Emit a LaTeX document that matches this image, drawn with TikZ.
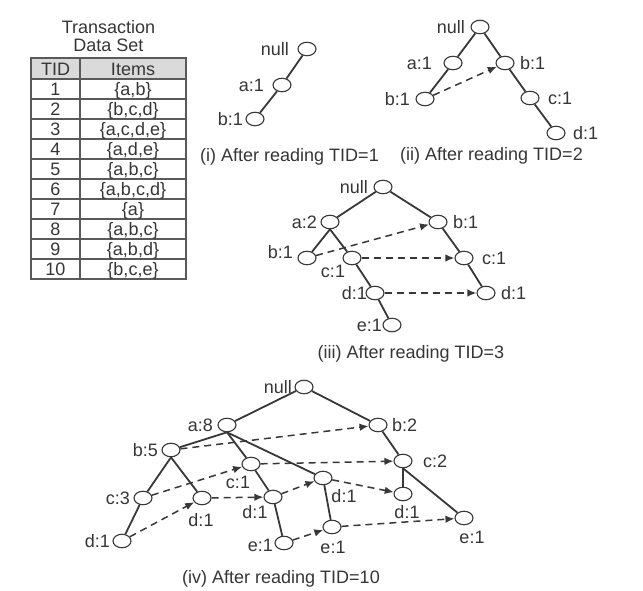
\documentclass[tikz,border=0pt]{standalone}
\usepackage{fontspec}
\setmainfont{Liberation Sans}
\usetikzlibrary{shapes.geometric,arrows.meta}
\definecolor{ink}{HTML}{363636}
\definecolor{edgec}{HTML}{383838}
\definecolor{hdr}{HTML}{DADADA}
\definecolor{grid}{HTML}{5A5A5A}
\tikzset{
  fp/.style={ellipse, draw=edgec, line width=1.1pt, fill=white, minimum width=18pt, minimum height=13.5pt, inner sep=0pt},
  lbl/.style={inner sep=0pt, text=ink, font=\fontsize{18}{20}\selectfont, text height=12.9pt, text depth=0pt},
  tree/.style={draw=edgec, line width=1.8pt},
  link/.style={draw=edgec, line width=1.5pt, dash pattern=on 7pt off 5pt, -{Latex[length=9pt,width=7.5pt]}},
  gridline/.style={draw=grid, line width=1.1pt}
}
\begin{document}
\begin{tikzpicture}[x=1pt,y=-1pt]
\useasboundingbox (0,0) rectangle (643,591);
\fill[white] (0,0) rectangle (643,591);

% ---------- table ----------
\node[lbl] (title1) at (108.5,27) {Transaction};
\node[lbl] (title2) at (108.5,45) {Data Set};
\fill[hdr] (31,58) rectangle (186,79);
\draw[gridline] (31,58) rectangle (186,279);
\foreach \yy in {79,99,119,139,159,179,199,219,239,259} \draw[gridline] (31,\yy) -- (186,\yy);
\draw[gridline, line width=1.6pt] (80,58) -- (80,279);
\node[lbl] (th) at (55.5,69) {TID};
\node[lbl] (ih) at (133,69) {Items};
\node[lbl] (t1) at (55.5,89) {1};   \node[lbl] (i1) at (133,89) {\{a,b\}};
\node[lbl] (t2) at (55.5,109) {2};  \node[lbl] (i2) at (133,109) {\{b,c,d\}};
\node[lbl] (t3) at (55.5,129) {3};  \node[lbl] (i3) at (133,129) {\{a,c,d,e\}};
\node[lbl] (t4) at (55.5,149) {4};  \node[lbl] (i4) at (133,149) {\{a,d,e\}};
\node[lbl] (t5) at (55.5,169) {5};  \node[lbl] (i5) at (133,169) {\{a,b,c\}};
\node[lbl] (t6) at (55.5,189) {6};  \node[lbl] (i6) at (133,189) {\{a,b,c,d\}};
\node[lbl] (t7) at (55.5,209) {7};  \node[lbl] (i7) at (133,209) {\{a\}};
\node[lbl] (t8) at (55.5,229) {8};  \node[lbl] (i8) at (133,229) {\{a,b,c\}};
\node[lbl] (t9) at (55.5,249) {9};  \node[lbl] (i9) at (133,249) {\{a,b,d\}};
\node[lbl] (t10) at (55.5,269) {10}; \node[lbl] (i10) at (133,269) {\{b,c,e\}};

% ---------- (i) ----------
\node[fp] (Anull) at (307,49) {};
\node[fp] (Aa) at (282,85) {};
\node[fp] (Ab) at (255,119) {};
\node[lbl, anchor=east] (LAnull) at (289,49) {null};
\node[lbl, anchor=east] (LAa) at (264,85) {a:1};
\node[lbl, anchor=east] (LAb) at (243,119) {b:1};
\draw[tree] (Anull) -- (Aa);
\draw[tree] (Aa) -- (Ab);
\node[lbl] (capA) at (289.5,155) {(i) After reading TID=1};

% ---------- (ii) ----------
\node[fp] (Bnull) at (480,27) {};
\node[fp] (Ba) at (453,63) {};
\node[fp] (Bb) at (505,63) {};
\node[fp] (Bab) at (425,99) {};
\node[fp] (Bc) at (530,98) {};
\node[fp] (Bd) at (556,133) {};
\node[lbl, anchor=east] (LBnull) at (465,27) {null};
\node[lbl, anchor=east] (LBa) at (432,63) {a:1};
\node[lbl, anchor=west] (LBb) at (520,63) {b:1};
\node[lbl, anchor=east] (LBab) at (410,99) {b:1};
\node[lbl, anchor=west] (LBc) at (548,98) {c:1};
\node[lbl, anchor=west] (LBd) at (573,133) {d:1};
\draw[tree] (Bnull) -- (Ba);
\draw[tree] (Bnull) -- (Bb);
\draw[tree] (Ba) -- (Bab);
\draw[tree] (Bb) -- (Bc);
\draw[tree] (Bc) -- (Bd);
\draw[link] (Bab) -- (Bb);
\node[lbl] (capB) at (491.5,154) {(ii) After reading TID=2};

% ---------- (iii) ----------
\node[fp] (Cnull) at (383,187) {};
\node[fp] (Ca) at (330,222) {};
\node[fp] (Cb) at (438,222) {};
\node[fp] (Cab) at (307,258) {};
\node[fp] (Cac) at (352,258) {};
\node[fp] (Cbc) at (464,258) {};
\node[fp] (Cad) at (375,293) {};
\node[fp] (Cbd) at (486,293) {};
\node[fp] (Cae) at (392,325) {};
\node[lbl, anchor=east] (LCnull) at (368,187) {null};
\node[lbl, anchor=east] (LCa) at (317,222) {a:2};
\node[lbl, anchor=west] (LCb) at (453,222) {b:1};
\node[lbl, anchor=east] (LCab) at (293,252) {b:1};
\node[lbl] (LCac) at (333,271) {c:1};
\node[lbl, anchor=west] (LCbc) at (482,258) {c:1};
\node[lbl, anchor=east] (LCad) at (367,293) {d:1};
\node[lbl, anchor=west] (LCbd) at (501,293) {d:1};
\node[lbl, anchor=east] (LCae) at (382,325) {e:1};
\draw[tree] (Cnull) -- (Ca);
\draw[tree] (Cnull) -- (Cb);
\draw[tree] (Ca.south) -- (Cab);
\draw[tree] (Ca.south) -- (Cac);
\draw[tree] (Cac) -- (Cad);
\draw[tree] (Cad) -- (Cae);
\draw[tree] (Cb) -- (Cbc);
\draw[tree] (Cbc) -- (Cbd);
\draw[link] (Cab) -- (Cb);
\draw[link] (Cac) -- (Cbc);
\draw[link] (Cad) -- (Cbd);
\node[lbl] (capC) at (411,352) {(iii) After reading TID=3};

% ---------- (iv) ----------
\node[fp] (Dnull) at (304,387) {};
\node[fp] (Da) at (227,425) {};
\node[fp] (Dab) at (171,450) {};
\node[fp] (Dabc) at (143,498) {};
\node[fp] (Dabcd) at (122,541) {};
\node[fp] (Dabd) at (202,498) {};
\node[fp] (Dac) at (251,464) {};
\node[fp] (Dacd) at (273,497) {};
\node[fp] (Dacde) at (284,543) {};
\node[fp] (Dad) at (323,478) {};
\node[fp] (Dade) at (332,527) {};
\node[fp] (Db) at (378,425) {};
\node[fp] (Dbc) at (403,461) {};
\node[fp] (Dbcd) at (403,494) {};
\node[fp] (Dbce) at (464,518) {};
\node[lbl, anchor=east] (LDnull) at (292,387) {null};
\node[lbl, anchor=east] (LDa) at (213,425) {a:8};
\node[lbl, anchor=east] (LDab) at (158,450) {b:5};
\node[lbl, anchor=east] (LDabc) at (130,498) {c:3};
\node[lbl, anchor=east] (LDabcd) at (110,541) {d:1};
\node[lbl] (LDabd) at (201,520) {d:1};
\node[lbl] (LDac) at (238,482) {c:1};
\node[lbl] (LDacd) at (255,512) {d:1};
\node[lbl, anchor=east] (LDacde) at (273,545) {e:1};
\node[lbl] (LDad) at (344,496) {d:1};
\node[lbl] (LDade) at (333,547) {e:1};
\node[lbl, anchor=west] (LDb) at (392,425) {b:2};
\node[lbl, anchor=west] (LDbc) at (423,461) {c:2};
\node[lbl] (LDbcd) at (407,512) {d:1};
\node[lbl] (LDbce) at (472,537) {e:1};
\draw[tree] (Dnull) -- (Da);
\draw[tree] (Dnull) -- (Db);
\draw[tree] (Da.south) -- (Dab);
\draw[tree] (Da.south) -- (Dac);
\draw[tree] (Da.south) -- (Dad);
\draw[tree] (Dab.south) -- (Dabc);
\draw[tree] (Dab.south) -- (Dabd);
\draw[tree] (Dabc) -- (Dabcd);
\draw[tree] (Dac) -- (Dacd);
\draw[tree] (Dacd) -- (Dacde);
\draw[tree] (Dad) -- (Dade);
\draw[tree] (Db) -- (Dbc);
\draw[tree] (Dbc.south) -- (Dbcd);
\draw[tree] (Dbc.south) -- (Dbce);
\draw[link] (Dab) -- (Db);
\draw[link] (Dabc) -- (Dac);
\draw[link] (Dac) -- (Dbc);
\draw[link] (Dabcd) -- (Dabd);
\draw[link] (Dabd) -- (Dacd);
\draw[link] (Dacd) -- (Dad);
\draw[link] (Dad) -- (Dbcd);
\draw[link] (Dacde) -- (Dade);
\draw[link] (Dade) -- (Dbce);
\node[lbl] (capD) at (281,577) {(iv) After reading TID=10};
\end{tikzpicture}
\end{document}
